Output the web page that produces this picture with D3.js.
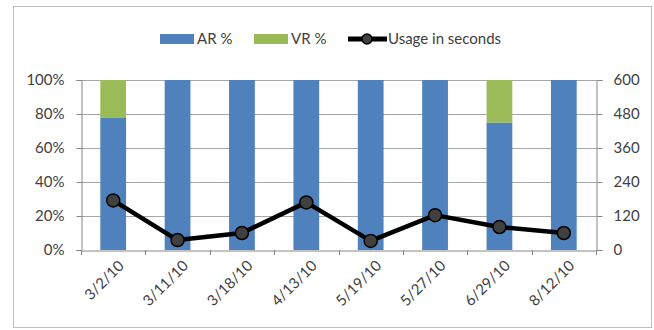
<!DOCTYPE html>
<html>
<head>
<meta charset="utf-8">
<script src="https://cdn.jsdelivr.net/npm/d3@7"></script>
<style>
  body { margin: 0; background: #fff; }
  text { font-family: Lato, "Open Sans", sans-serif; }
</style>
</head>
<body>
<div id="chart"></div>
<script>
// chart data
const dates = ['3/2/10', '3/11/10', '3/18/10', '4/13/10', '5/19/10', '5/27/10', '6/29/10', '8/12/10'];
const arPct = [78, 100, 100, 100, 100, 100, 75, 100];
const vrPct = [22, 0, 0, 0, 0, 0, 25, 0];
const usageSeconds = [175, 35, 60, 168, 32, 123, 81, 60];
const leftTicks = [0, 20, 40, 60, 80, 100];
const rightTicks = [0, 120, 240, 360, 480, 600];

const W = 654, H = 330;
const margin = { top: 80, right: 58, bottom: 80, left: 81 };
const width = W - margin.left - margin.right;
const height = H - margin.top - margin.bottom;
const fontSize = '15px';

const colors = { ar: '#4f81bd', vr: '#9bbb59', line: '#000', marker: '#404040', grid: '#a6a6a6', axis: '#868686', text: '#404040' };

const svg = d3.select('#chart').append('svg')
  .attr('width', W)
  .attr('height', H);

// outer chart border
svg.append('rect')
  .attr('x', 13.5).attr('y', 6.5)
  .attr('width', 638).attr('height', 321)
  .attr('fill', 'none')
  .attr('stroke', '#bfbfbf');

const g = svg.append('g').attr('transform', `translate(${margin.left},${margin.top})`);

const x = d3.scaleBand().domain(dates).range([0, width]).paddingInner(0.6).paddingOuter(0.3);
const xBand = d3.scaleBand().domain(dates).range([0, width]);
const yL = d3.scaleLinear().domain([0, 100]).range([height, 0]);
const yR = d3.scaleLinear().domain([0, 600]).range([height, 0]);

// gridlines
g.selectAll('.grid').data(leftTicks.slice(1)).enter().append('line')
  .attr('x1', 0).attr('x2', width)
  .attr('y1', d => Math.round(yL(d)) + 0.5).attr('y2', d => Math.round(yL(d)) + 0.5)
  .attr('stroke', colors.grid);

// stacked bars
const stacked = dates.map((d, i) => ({ date: d, ar: arPct[i], vr: vrPct[i] }));
g.selectAll('.ar').data(stacked).enter().append('rect')
  .attr('x', d => x(d.date))
  .attr('width', x.bandwidth())
  .attr('y', d => yL(d.ar))
  .attr('height', d => height - yL(d.ar))
  .attr('fill', colors.ar);
g.selectAll('.vr').data(stacked.filter(d => d.vr > 0)).enter().append('rect')
  .attr('x', d => x(d.date))
  .attr('width', x.bandwidth())
  .attr('y', d => yL(d.ar + d.vr))
  .attr('height', d => yL(d.ar) - yL(d.ar + d.vr))
  .attr('fill', colors.vr);

// axes
const leftAxis = g.append('g').attr('transform', 'translate(0.5,0)')
  .call(d3.axisLeft(yL).tickValues(leftTicks).tickFormat(d => d + '%').tickSizeOuter(0).tickSize(5).tickPadding(12));
const rightAxis = g.append('g').attr('transform', `translate(${width + 0.5},0)`)
  .call(d3.axisRight(yR).tickValues(rightTicks).tickSizeOuter(0).tickSize(6).tickPadding(11));
const bottomAxis = g.append('g').attr('transform', `translate(0,${height + 0.5})`)
  .call(d3.axisBottom(xBand).tickSizeOuter(0).tickSize(0).tickFormat(''));

// category boundary ticks
g.selectAll('.xtick').data(d3.range(dates.length + 1)).enter().append('line')
  .attr('x1', i => Math.round(i * xBand.step()) + 0.5)
  .attr('x2', i => Math.round(i * xBand.step()) + 0.5)
  .attr('y1', height).attr('y2', height + 5)
  .attr('stroke', colors.axis);

[leftAxis, rightAxis, bottomAxis].forEach(a => {
  a.select('.domain').attr('stroke', colors.axis);
  a.selectAll('line').attr('stroke', colors.axis);
  a.selectAll('text').attr('fill', colors.text).attr('font-size', fontSize).attr('font-family', 'Lato, sans-serif');
});

// rotated date labels
g.selectAll('.xlabel').data(dates).enter().append('text')
  .attr('transform', d => `translate(${xBand(d) + xBand.bandwidth() / 2 + 8},${height + 13}) rotate(-45)`)
  .attr('text-anchor', 'end')
  .attr('dy', '0.35em')
  .attr('fill', colors.text)
  .attr('font-size', fontSize)
  .text(d => d);

// usage line
const line = d3.line()
  .x((d, i) => xBand(dates[i]) + xBand.bandwidth() / 2)
  .y(d => yR(d));
g.append('path')
  .datum(usageSeconds)
  .attr('d', line)
  .attr('fill', 'none')
  .attr('stroke', colors.line)
  .attr('stroke-width', 4.5)
  .attr('stroke-linejoin', 'round');
g.selectAll('.pt').data(usageSeconds).enter().append('circle')
  .attr('cx', (d, i) => xBand(dates[i]) + xBand.bandwidth() / 2)
  .attr('cy', d => yR(d))
  .attr('r', 6.5)
  .attr('fill', colors.marker)
  .attr('stroke', '#000')
  .attr('stroke-width', 1.5);

// legend
const legend = svg.append('g').attr('transform', 'translate(0,39)');
legend.append('rect').attr('x', 160).attr('y', -5).attr('width', 34).attr('height', 10).attr('fill', colors.ar);
legend.append('text').attr('x', 197).attr('y', 0).attr('dy', '0.35em').attr('font-size', fontSize).attr('fill', colors.text).text('AR %');
legend.append('rect').attr('x', 254).attr('y', -5).attr('width', 34).attr('height', 10).attr('fill', colors.vr);
legend.append('text').attr('x', 291).attr('y', 0).attr('dy', '0.35em').attr('font-size', fontSize).attr('fill', colors.text).text('VR %');
legend.append('line').attr('x1', 348).attr('x2', 387).attr('y1', 0).attr('y2', 0).attr('stroke', colors.line).attr('stroke-width', 5);
legend.append('circle').attr('cx', 367).attr('cy', 0).attr('r', 5).attr('fill', colors.marker).attr('stroke', '#000').attr('stroke-width', 1.5);
legend.append('text').attr('x', 388).attr('y', 0).attr('dy', '0.35em').attr('font-size', fontSize).attr('fill', colors.text).text('Usage in seconds');
</script>
</body>
</html>
